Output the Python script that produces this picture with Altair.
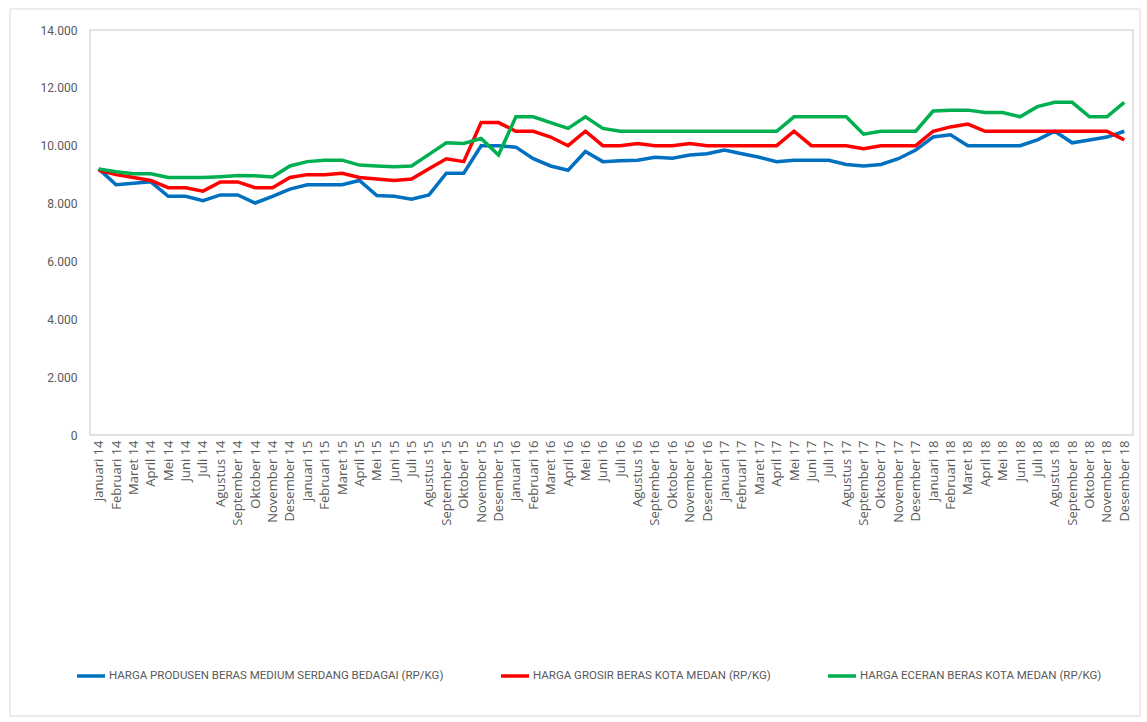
import altair as alt
import pandas as pd

bulan_nama = ["Januari", "Februari", "Maret", "April", "Mei", "Juni", "Juli",
              "Agustus", "September", "Oktober", "November", "Desember"]
tahun = ["14", "15", "16", "17", "18"]
months = [f"{b} {t}" for t in tahun for b in bulan_nama]

series_names = [
    "HARGA PRODUSEN BERAS MEDIUM SERDANG BEDAGAI (RP/KG)",
    "HARGA GROSIR BERAS KOTA MEDAN (RP/KG)",
    "HARGA ECERAN BERAS KOTA MEDAN (RP/KG)",
]
colors = ["#0070C0", "#FF0000", "#00B050"]

produsen = [
    9200, 8650, 8700, 8750, 8250, 8250, 8100, 8300, 8300, 8020, 8250, 8500,
    8650, 8650, 8650, 8800, 8280, 8250, 8150, 8300, 9050, 9050, 10000, 10000,
    9950, 9550, 9300, 9150, 9800, 9450, 9480, 9500, 9600, 9570, 9680, 9720,
    9850, 9720, 9600, 9450, 9500, 9500, 9500, 9350, 9300, 9350, 9550, 9850,
    10300, 10380, 10000, 10000, 10000, 10000, 10200, 10500, 10100, 10200, 10300, 10500,
]
grosir = [
    9150, 9000, 8900, 8800, 8550, 8550, 8430, 8750, 8750, 8550, 8550, 8900,
    9000, 9000, 9050, 8900, 8850, 8800, 8850, 9200, 9550, 9450, 10800, 10800,
    10500, 10500, 10300, 10000, 10500, 10000, 10000, 10080, 10000, 10000, 10080, 10000,
    10000, 10000, 10000, 10000, 10500, 10000, 10000, 10000, 9900, 10000, 10000, 10000,
    10500, 10650, 10750, 10500, 10500, 10500, 10500, 10500, 10500, 10500, 10500, 10200,
]
eceran = [
    9200, 9100, 9030, 9030, 8900, 8900, 8900, 8930, 8970, 8960, 8920, 9300,
    9450, 9500, 9500, 9330, 9300, 9270, 9300, 9700, 10100, 10080, 10250, 9680,
    11000, 11000, 10800, 10600, 11000, 10600, 10500, 10500, 10500, 10500, 10500, 10500,
    10500, 10500, 10500, 10500, 11000, 11000, 11000, 11000, 10400, 10500, 10500, 10500,
    11200, 11230, 11230, 11150, 11150, 11000, 11350, 11500, 11500, 11000, 11000, 11500,
]

y_ticks = [0, 2000, 4000, 6000, 8000, 10000, 12000, 14000]

rows = []
for name, vals in zip(series_names, [produsen, grosir, eceran]):
    for m, v in zip(months, vals):
        rows.append({"Bulan": m, "Seri": name, "Harga": v})
df = pd.DataFrame(rows)

label_color = "#595959"

lines = alt.Chart(df).mark_line(strokeWidth=3.5).encode(
    x=alt.X(
        "Bulan:N",
        sort=months,
        scale=alt.Scale(type="point", padding=0.5),
        axis=alt.Axis(
            title=None, labelAngle=-90, labelFont="Open Sans", labelFontSize=13,
            labelColor=label_color, domain=False, ticks=False, labelPadding=5,
            labelOverlap=False, labelLimit=200,
        ),
    ),
    y=alt.Y(
        "Harga:Q",
        scale=alt.Scale(domain=[0, 14000], nice=False),
        axis=alt.Axis(
            title=None, values=y_ticks, grid=False, domain=False, ticks=False,
            labelFont="Roboto", labelFontSize=12,
            labelColor=label_color, labelPadding=13,
            labelExpr="replace(format(datum.value, ',d'), ',', '.')",
        ),
    ),
    color=alt.Color(
        "Seri:N",
        sort=series_names,
        scale=alt.Scale(domain=series_names, range=colors),
        legend=alt.Legend(
            title=None, orient="none", direction="horizontal", legendX=-15, legendY=630,
            symbolType="stroke", symbolSize=784, symbolStrokeWidth=3.5,
            labelFont="Roboto", labelFontSize=11.5,
            labelColor=label_color, columnPadding=50, labelLimit=500, labelOffset=2,
        ),
    ),
)

frame_df = pd.DataFrame({"k": [0]})
frame = alt.Chart(frame_df).mark_rect(fill=None, stroke="#d9d9d9", strokeWidth=1).encode(
    x=alt.value(-80), x2=alt.value(1050), y=alt.value(-21), y2=alt.value(686)
)

chart = alt.layer(frame, lines).properties(
    width=1043, height=405,
    padding={"left": 90, "top": 30, "right": 14, "bottom": 287},
    autosize=alt.AutoSizeParams(type="none"),
    background="white",
).configure_view(stroke="#d9d9d9", strokeWidth=1.5)

chart.save("out.html", embed_options={"renderer": "svg", "actions": False})
